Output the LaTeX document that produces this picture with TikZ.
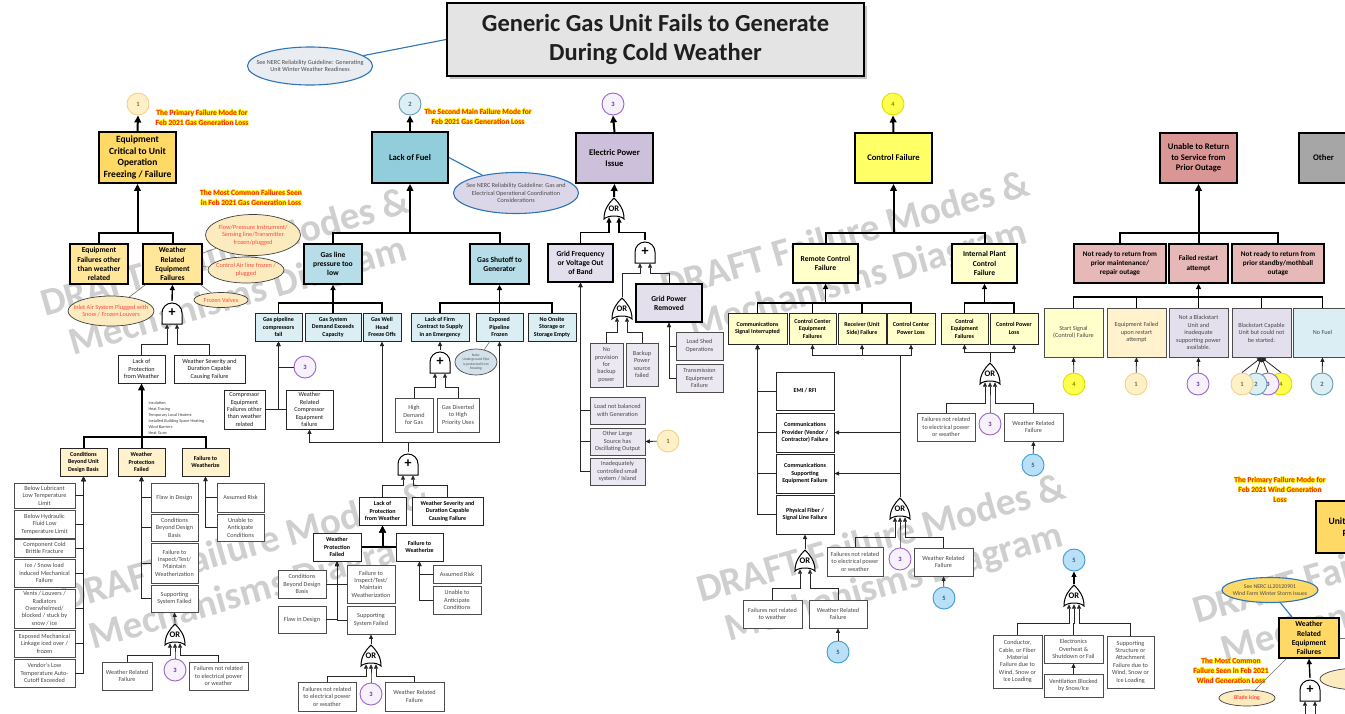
\documentclass[tikz,border=0pt]{standalone}
\usepackage{fontspec}
\setmainfont{Carlito}
\usepackage[copies]{contour}
\contourlength{0.5pt}
\usetikzlibrary{arrows.meta,calc,shapes.geometric,shadows}

\definecolor{cGold}{HTML}{FFD966}
\definecolor{cGoldLt}{HTML}{FFE699}
\definecolor{cCream}{HTML}{FFF2CC}
\definecolor{cTeal}{HTML}{92CDDC}
\definecolor{cTealMid}{HTML}{B7DEE8}
\definecolor{cTealLt}{HTML}{DAEEF3}
\definecolor{cLav}{HTML}{CCC0DA}
\definecolor{cLavLt}{HTML}{E4DFEC}
\definecolor{cLavPale}{HTML}{ECE8F2}
\definecolor{cYel}{HTML}{FFFF66}
\definecolor{cYelLt}{HTML}{FFFFCC}
\definecolor{cRose}{HTML}{DA9694}
\definecolor{cRoseLt}{HTML}{E6B8B7}
\definecolor{cGray}{HTML}{A6A6A6}
\definecolor{cTitle}{HTML}{E4E4E4}
\definecolor{cBlue}{HTML}{2E75B6}
\definecolor{cRed}{HTML}{F02818}
\definecolor{cRedTxt}{HTML}{FF4B3E}
\definecolor{cGlow}{HTML}{FFF200}
\definecolor{cEll}{HTML}{FDEBC0}
\definecolor{cNoteFill}{HTML}{D3E2EA}
\definecolor{cNercA}{HTML}{E9ECF1}
\definecolor{cNercB}{HTML}{DCD7E8}
% numbered reference circles
\definecolor{kOneF}{HTML}{FEF0C7}\definecolor{kOneD}{HTML}{F2D28A}\definecolor{kOneT}{HTML}{8A6D1E}
\definecolor{kTwoF}{HTML}{DDEFF4}\definecolor{kTwoD}{HTML}{5F9FB3}\definecolor{kTwoT}{HTML}{2F6F84}
\definecolor{kThrF}{HTML}{F6F1FB}\definecolor{kThrD}{HTML}{9966CC}\definecolor{kThrT}{HTML}{7030A0}
\definecolor{kFouF}{HTML}{FFFF4D}\definecolor{kFouD}{HTML}{E0E000}\definecolor{kFouT}{HTML}{8C8C00}
\definecolor{kFivF}{HTML}{B9E0F7}\definecolor{kFivD}{HTML}{3D9BD6}\definecolor{kFivT}{HTML}{20618F}

\newcommand\glow[1]{\contour{cGlow}{#1}}
% box from its corners: [style]{name}{x1}{y1}{x2}{y2}{text}
\newcommand\bxnode[7][]{%
  \pgfmathsetmacro\bxW{#5-#3}\pgfmathsetmacro\bxH{#6-#4}%
  \node[#1, minimum width=\bxW pt, minimum height=\bxH pt] (#2) at ({(#3+#5)/2},{(#4+#6)/2}) {#7};}
% children hang from a horizontal bus under the parent
\newcommand\busto[4]{%
  \coordinate (bz) at (0,#3);%
  \foreach \ch in {#4}{\draw[#1,-] (\ch.north) |- (#2.south |- bz);}%
  \draw[#1] (#2.south |- bz) -- (#2.south);}
% children stacked beside a vertical line under the parent
\newcommand\sidel[4]{\foreach \ch in {#4}{\draw[#1] (\ch.#3) -| (#2.south);}}
% gate inputs: style, child, gate, x offset, drop of the horizontal run
\newcommand\ginA[5]{\draw[#1] (#2.north) |- ($(#3.south)+(#4pt,-#5pt)$) -- ($(#3.south)+(#4pt,1pt)$);}
\newcommand\ginO[5]{\draw[#1] (#2.north) |- ($(#3.south)+(#4pt,-#5pt)$) -- ($(#3.south)+(#4pt,4pt)$);}

\tikzset{
  bx/.style={draw, rectangle, align=center, inner sep=1pt},
  topbox/.style={bx, line width=1.8pt, font=\bfseries\fontsize{8.6}{10.6}\selectfont},
  bigtop/.style={topbox, font=\bfseries\fontsize{9.5}{11.7}\selectfont},
  midbox/.style={bx, line width=1.3pt, font=\bfseries\fontsize{7.6}{9.2}\selectfont},
  subbox/.style={bx, line width=1pt, draw=black!85, font=\bfseries\fontsize{6}{7.5}\selectfont},
  leafbox/.style={bx, line width=0.8pt, draw=black!70, text=black!72, font=\fontsize{6.2}{7.4}\selectfont},
  plainbox/.style={leafbox, draw=black!85, text=black!90},
  circ/.style={circle, minimum size=22pt, inner sep=0pt, line width=0.9pt, font=\bfseries\fontsize{6.5}{7}\selectfont},
  k1/.style={circ, fill=kOneF, draw=kOneD, text=kOneT},
  k2/.style={circ, fill=kTwoF, draw=kTwoD, text=kTwoT},
  k3/.style={circ, fill=kThrF, draw=kThrD, text=kThrT},
  k4/.style={circ, fill=kFouF, draw=kFouD, text=kFouT},
  k5/.style={circ, fill=kFivF, draw=kFivD, text=kFivT},
  ell/.style={ellipse, draw=black!75, line width=0.7pt, fill=cEll, text=cRedTxt, align=center, inner xsep=-9pt, inner ysep=0pt, font=\fontsize{6.3}{7.4}\selectfont},
  nerc/.style={ellipse, draw=cBlue, line width=1.1pt, align=center, text=black!70, inner xsep=-11pt, inner ysep=0pt, font=\fontsize{6.2}{7.6}\selectfont},
  redlbl/.style={text=cRed, font=\bfseries\fontsize{7.5}{9.8}\selectfont, align=center},
  wmark/.style={text=black!19, font=\bfseries\fontsize{39}{45}\selectfont, align=center, rotate=16},
  A1/.style={draw=black, line width=2pt, -{Triangle[length=7pt,width=6.5pt]}},
  A2/.style={draw=black, line width=1.4pt, -{Triangle[length=5.5pt,width=5pt]}},
  A3/.style={draw=black!85, line width=0.8pt, -{Triangle[length=4.5pt,width=4pt]}},
  blueln/.style={draw=cBlue, line width=1.1pt},
  grayln/.style={draw=black!55, line width=0.6pt},
  andgate/.style={minimum width=23pt, minimum height=24pt, inner sep=0pt, font=\bfseries\fontsize{14}{14}\selectfont,
    path picture={\draw[line width=1pt, fill=white]
      ($(path picture bounding box.center)+(-10pt,-11pt)$) -- ++(0pt,11pt)
      arc[start angle=180, end angle=0, radius=10pt] -- ++(0pt,-11pt) -- cycle;}},
  orgate/.style={minimum width=23pt, minimum height=24pt, inner sep=0pt, font=\bfseries\fontsize{8.5}{9}\selectfont,
    path picture={\draw[line width=1pt, fill=white]
      ($(path picture bounding box.center)+(-10pt,-10pt)$)
      .. controls +(0pt,10pt) and +(-5pt,-5pt) .. ($(path picture bounding box.center)+(0pt,11pt)$)
      .. controls +(5pt,-5pt) and +(0pt,10pt) .. ($(path picture bounding box.center)+(10pt,-10pt)$)
      .. controls +(-4pt,4pt) and +(4pt,4pt) .. ($(path picture bounding box.center)+(-10pt,-10pt)$) -- cycle;}},
}

\begin{document}
\begin{tikzpicture}[x=1pt,y=-1pt]
\useasboundingbox (0,0) rectangle (1345,713);
\clip (0,0) rectangle (1345,713);
\fill[white] (0,0) rectangle (1345,713);

% ---------- background watermark ----------
\node[wmark] (wm1) at (232,276) {DRAFT Failure Modes \&\\Mechanisms Diagram};
\node[wmark] (wm2) at (852,259) {DRAFT Failure Modes \&\\Mechanisms Diagram};
\node[wmark] (wm3) at (252,570) {DRAFT Failure Modes \&\\Mechanisms Diagram};
\node[wmark] (wm4) at (888,562) {DRAFT Failure Modes \&\\Mechanisms Diagram};
\node[wmark] (wm5) at (1384,583) {DRAFT Failure Modes \&\\Mechanisms Diagram};

% ---------- title ----------
\node[draw, line width=2pt, fill=cTitle, drop shadow={shadow xshift=3pt, shadow yshift=-3pt, fill=black!45},
      minimum width=417pt, minimum height=73pt, align=center, text=black!88,
      font=\bfseries\fontsize{24.5}{28.5}\selectfont] (title) at (655.5,39.5)
      {Generic Gas Unit Fails to Generate\\During Cold Weather};
\node[nerc, fill=cNercA, minimum width=125pt, minimum height=38pt] (nerc1) at (310,66)
      {See NERC Reliability Guideline: Generating\\Unit Winter Weather Readiness};
\draw[blueln] (nerc1) -- (title.west);

% ================= 1: equipment freezing =================
\node[k1] (k1a) at (138,104) {1};
\node[redlbl] (lbl1) at (202,118) {\glow{The Primary Failure Mode for}\\\glow{Feb 2021 Gas Generation Loss}};
\bxnode[bigtop, fill=cGold]{eqcrit}{99}{132}{176}{183}{Equipment\\Critical to Unit\\Operation\\Freezing / Failure}
\node[redlbl] (lbl2) at (251,198) {\glow{The Most Common Failures Seen}\\\glow{in Feb 2021 Gas Generation Loss}};
\bxnode[midbox, fill=cGoldLt]{eqother}{70}{244}{128}{284}{Equipment\\Failures other\\than weather\\related}
\bxnode[midbox, fill=cGoldLt]{wre1}{143}{244}{202}{284}{Weather\\Related\\Equipment\\Failures}
\node[ell, minimum width=95pt, minimum height=41pt] (flow) at (253,235) {Flow/Pressure Instrument/\\Sensing line/Transmitter\\frozen/plugged};
\node[ell, minimum width=76pt, minimum height=26pt] (cair) at (246,270) {Control Air line frozen /\\plugged};
\node[ell, minimum width=54pt, minimum height=15pt] (fvalve) at (221,300) {Frozen Valves};
\node[ell, minimum width=86pt, minimum height=30pt] (inlet) at (111,311) {Inlet Air System Plugged with\\Snow / Frozen Louvers};
\node[andgate] (and1) at (172,313) {+};
\bxnode[plainbox]{lop1}{118}{355}{165}{383}{Lack of\\Protection\\from Weather}
\bxnode[plainbox]{wsev1}{174}{355}{245}{383}{Weather Severity and\\Duration Capable\\Causing Failure}
\node[anchor=west, align=left, text=black!75, font=\fontsize{4.3}{5.9}\selectfont] (prot1) at (145,418)
      {Insulation\\Heat Tracing\\Temporary Local Heaters\\Installed Building Space Heating\\Wind Barriers\\Heat Guns};
\bxnode[subbox, fill=cCream]{cbd1}{60}{448}{107}{476}{Conditions\\Beyond Unit\\Design Basis}
\bxnode[subbox, fill=cCream]{wpf1}{118}{448}{165}{476}{Weather\\Protection\\Failed}
\bxnode[subbox, fill=cCream]{ftw1}{182}{448}{229}{476}{Failure to\\Weatherize}
\bxnode[leafbox, fill=white]{l1a}{14}{483}{75}{508}{Below Lubricant\\Low Temperature\\Limit}
\bxnode[leafbox, fill=white]{l1b}{14}{510}{75}{538}{Below Hydraulic\\Fluid Low\\Temperature Limit}
\bxnode[leafbox, fill=white]{l1c}{14}{539}{75}{557}{Component Cold\\Brittle Fracture}
\bxnode[leafbox, fill=white]{l1d}{14}{559}{75}{587}{Ice / Snow load\\induced Mechanical\\Failure}
\bxnode[leafbox, fill=white]{l1e}{14}{589}{75}{628}{Vents / Louvers /\\Radiators\\Overwhelmed/\\blocked / stuck by\\snow / ice}
\bxnode[leafbox, fill=white]{l1f}{14}{630}{75}{657}{Exposed Mechanical\\Linkage iced over /\\frozen}
\bxnode[leafbox, fill=white]{l1g}{14}{659}{75}{687}{Vendor's Low\\Temperature Auto-\\Cutoff Exceeded}
\bxnode[leafbox, fill=white]{l2a}{151}{483}{198}{512}{Flaw in Design}
\bxnode[leafbox, fill=white]{l2b}{151}{514}{198}{541}{Conditions\\Beyond Design\\Basis}
\bxnode[leafbox, fill=white]{l2c}{151}{543}{198}{583}{Failure to\\Inspect/Test/\\Maintain\\Weatherization}
\bxnode[leafbox, fill=white]{l2d}{151}{585}{198}{612}{Supporting\\System Failed}
\bxnode[leafbox, fill=white]{l3a}{217}{483}{264}{512}{Assumed Risk}
\bxnode[leafbox, fill=white]{l3b}{217}{514}{264}{541}{Unable to\\Anticipate\\Conditions}
\node[orgate] (or1) at (175,635) {OR};
\bxnode[leafbox, fill=white]{wrf1}{102}{662}{152}{690}{Weather Related\\Failure}
\node[k3] (k3a) at (175,670) {3};
\bxnode[leafbox, fill=white]{fnr1}{189}{662}{248}{690}{Failures not related\\to electrical power\\or weather}

\draw[A1] (eqcrit.north) -- (k1a.south);
\busto{A1}{eqcrit}{233}{eqother,wre1}
\draw[grayln] (wre1) -- (flow);
\draw[grayln] (wre1) -- (cair);
\draw[grayln] (wre1) -- (fvalve);
\draw[grayln] (wre1) -- (inlet);
\draw[A2] (and1.north) -- (wre1.south);
\ginA{A3}{lop1}{and1}{-5}{19}
\ginA{A3}{wsev1}{and1}{5}{19}
\busto{A1}{lop1}{437}{cbd1,wpf1,ftw1}
\sidel{A3}{cbd1}{east}{l1a,l1b,l1c,l1d,l1e,l1f,l1g}
\sidel{A3}{wpf1}{west}{l2a,l2b,l2c,l2d}
\sidel{A3}{ftw1}{west}{l3a,l3b}
\draw[A3] (or1.north) -- (l2d.south);
\ginO{A3}{wrf1}{or1}{-5}{8}
\ginO{A3}{k3a}{or1}{0}{8}
\ginO{A3}{fnr1}{or1}{5}{8}

% ================= 2: lack of fuel =================
\node[k2] (k2a) at (410,104) {2};
\node[redlbl] (lbl3) at (478,117) {\glow{The Second Main Failure Mode for}\\\glow{Feb 2021 Gas Generation Loss}};
\bxnode[topbox, fill=cTeal]{fuel}{372}{132}{448}{183}{Lack of Fuel}
\node[nerc, fill=cNercB, minimum width=125pt, minimum height=41pt] (nerc2) at (516,193)
      {See NERC Reliability Guideline: Gas and\\Electrical Operational Coordination\\Considerations};
\bxnode[midbox, fill=cTealMid]{glp}{304}{244}{362}{284}{Gas line\\pressure too\\low}
\bxnode[midbox, fill=cTealMid]{gso}{470}{244}{529}{284}{Gas Shutoff to\\Generator}
\bxnode[subbox, fill=cTealLt]{gpc}{255}{313}{302}{341}{Gas pipeline\\compressors\\fail}
\bxnode[subbox, fill=cTealLt]{gsd}{305}{313}{361}{341}{Gas System\\Demand Exceeds\\Capacity}
\bxnode[subbox, fill=cTealLt]{gwh}{363}{313}{401}{341}{Gas Well\\Head\\Freeze Offs}
\bxnode[subbox, fill=cTealLt]{lfc}{411}{313}{469}{341}{Lack of Firm\\Contract to Supply\\in an Emergency}
\bxnode[subbox, fill=cTealLt]{epf}{476}{313}{523}{341}{Exposed\\Pipeline\\Frozen}
\bxnode[subbox, fill=cTealLt]{nos}{528}{313}{576}{341}{No Onsite\\Storage or\\Storage Empty}
\node[ellipse, draw=black!70, line width=0.7pt, fill=cNoteFill, align=center, inner sep=-3pt, text=black!70,
      minimum width=42pt, minimum height=26pt, font=\fontsize{3.6}{4.3}\selectfont] (note) at (476,362)
      {Note:\\Underground Pipe\\is protected from\\freezing};
\node[k3] (k3b) at (305,367) {3};
\bxnode[plainbox, fill=white]{cef}{224}{390}{265}{429}{Compressor\\Equipment\\Failures other\\than weather\\related}
\bxnode[plainbox, fill=white]{wrc}{286}{390}{333}{429}{Weather\\Related\\Compressor\\Equipment\\failure}
\node[andgate] (and2) at (440,362) {+};
\bxnode[leafbox, fill=white]{hdg}{395}{398}{433}{432}{High\\Demand\\for Gas}
\bxnode[leafbox, fill=white]{gdh}{437}{398}{479}{432}{Gas Diverted\\to High\\Priority Uses}
\node[andgate] (and3) at (408,464) {+};
\bxnode[subbox, fill=white]{lop2}{359}{497}{406}{525}{Lack of\\Protection\\from Weather}
\bxnode[subbox, fill=white]{wsev2}{412}{497}{483}{525}{Weather Severity and\\Duration Capable\\Causing Failure}
\bxnode[subbox, fill=white]{wpf2}{313}{533}{361}{561}{Weather\\Protection\\Failed}
\bxnode[subbox, fill=white]{ftw2}{396}{533}{443}{561}{Failure to\\Weatherize}
\bxnode[leafbox, fill=white]{cbd2}{278}{570}{326}{598}{Conditions\\Beyond Design\\Basis}
\bxnode[leafbox, fill=white]{fd2}{278}{606}{326}{633}{Flaw in Design}
\bxnode[leafbox, fill=white]{fit2}{347}{565}{395}{603}{Failure to\\Inspect/Test/\\Maintain\\Weatherization}
\bxnode[leafbox, fill=white]{ssf2}{347}{606}{395}{634}{Supporting\\System Failed}
\bxnode[leafbox, fill=white]{ar2}{433}{565}{481}{583}{Assumed Risk}
\bxnode[leafbox, fill=white]{ua2}{433}{586}{481}{614}{Unable to\\Anticipate\\Conditions}
\node[orgate] (or2) at (371,656) {OR};
\bxnode[leafbox, fill=white]{fnr2}{298}{682}{356}{711}{Failures not related\\to electrical power\\or weather}
\node[k3] (k3c) at (371,694) {3};
\bxnode[leafbox, fill=white]{wrf2}{385}{682}{444}{711}{Weather Related\\Failure}

\draw[A1] (fuel.north) -- (k2a.south);
\draw[blueln] (fuel.east) -- (nerc2);
\busto{A1}{fuel}{233}{glp,gso}
\busto{A2}{glp}{303}{gpc,gsd,gwh}
\busto{A2}{gso}{303}{lfc,epf,nos}
\sidel{A3}{gpc}{east}{cef}
\sidel{A3}{gpc}{west}{k3b,wrc}
\draw[grayln] (note) -- (epf);
\draw[A3] (and2.north) -- (lfc.south);
\ginA{A3}{hdg}{and2}{-5}{13}
\ginA{A3}{gdh}{and2}{5}{13}
\coordinate (b442) at (0,442);
\foreach \ch in {wrc,gwh,epf}{\draw[A3] (and3.north) |- (\ch.south |- b442) -- (\ch.south);}
\ginA{A3}{lop2}{and3}{-5}{9}
\ginA{A3}{wsev2}{and3}{5}{9}
\draw[A1] (wpf2.east) -| (lop2.south);
\draw[A1] (ftw2.west) -| (lop2.south);
\sidel{A3}{wpf2}{east}{cbd2,fd2}
\sidel{A3}{wpf2}{west}{fit2,ssf2}
\sidel{A3}{ftw2}{west}{ar2,ua2}
\draw[A3] (or2.north) -- (ssf2.south);
\ginO{A3}{fnr2}{or2}{-5}{8}
\ginO{A3}{k3c}{or2}{0}{8}
\ginO{A3}{wrf2}{or2}{5}{8}

% ================= 3: electric power =================
\node[k3] (k3top) at (613,104) {3};
\bxnode[topbox, fill=cLav]{epi}{576}{133}{653}{183}{Electric Power\\Issue}
\node[orgate] (orE) at (614,209) {OR};
\bxnode[midbox, fill=cLavLt]{gfv}{548}{244}{613}{282}{Grid Frequency\\or Voltage Out\\of Band}
\node[andgate] (andE) at (645,252) {+};
\bxnode[midbox, fill=cLavLt]{gpr}{636}{284}{702}{322}{Grid Power\\Removed}
\node[orgate] (orE2) at (622,309) {OR};
\bxnode[leafbox, fill=cLavPale]{npb}{590}{343}{623}{387}{No\\provision\\for\\backup\\power}
\bxnode[leafbox, fill=cLavPale]{bps}{626}{343}{658}{386}{Backup\\Power\\source\\failed}
\bxnode[leafbox, fill=cLavPale]{lso}{676}{332}{723}{360}{Load Shed\\Operations}
\bxnode[leafbox, fill=cLavPale]{tef}{676}{364}{723}{392}{Transmission\\Equipment\\Failure}
\bxnode[leafbox, fill=cLavPale]{lnb}{590}{397}{645}{424}{Load not balanced\\with Generation}
\bxnode[leafbox, fill=cLavPale]{ols}{590}{428}{645}{455}{Other Large\\Source has\\Oscillating Output}
\bxnode[leafbox, fill=cLavPale]{ics}{590}{458}{645}{485}{Inadequately\\controlled small\\system / Island}
\node[k1] (k1b) at (668,441) {1};

\draw[A1] (epi.north) -- (k3top.south);
\draw[A1] (orE.north) -- (epi.south);
\ginO{A2}{gfv}{orE}{-5}{11}
\ginO{A2}{andE}{orE}{5}{11}
\ginA{A3}{orE2}{andE}{-5}{9}
\ginA{A3}{gpr}{andE}{5}{9}
\ginO{A3}{npb}{orE2}{-5}{11}
\ginO{A3}{bps}{orE2}{5}{11}
\sidel{A3}{gpr}{west}{lso,tef}
\sidel{A3}{gfv}{west}{lnb,ols,ics}
\draw[A3] (k1b) -- (ols.east);

% ================= 4: control failure =================
\node[k4] (k4a) at (893,104) {4};
\bxnode[topbox, fill=cYel]{ctl}{855}{133}{932}{183}{Control Failure}
\bxnode[midbox, fill=cYelLt]{rcf}{793}{244}{858}{283}{Remote Control\\Failure}
\bxnode[midbox, fill=cYelLt]{ipc}{952}{244}{1017}{283}{Internal Plant\\Control\\Failure}
\bxnode[subbox, fill=cYelLt]{csi}{728}{313}{787}{344}{Communications\\Signal Interrupted}
\bxnode[subbox, fill=cYelLt]{cce}{789}{313}{836}{344}{Control Center\\Equipment\\Failures}
\bxnode[subbox, fill=cYelLt]{rus}{838}{313}{886}{344}{Receiver (Unit\\Side) Failure}
\bxnode[subbox, fill=cYelLt]{ccp}{887}{313}{935}{344}{Control Center\\Power Loss}
\bxnode[subbox, fill=cYelLt]{cef2}{941}{313}{988}{344}{Control\\Equipment\\Failures}
\bxnode[subbox, fill=cYelLt]{cpl}{990}{313}{1038}{344}{Control Power\\Loss}
\bxnode[subbox, fill=white]{emi}{776}{372}{834}{410}{EMI / RFI}
\bxnode[subbox, fill=white]{cpf}{776}{413}{834}{452}{Communications\\Provider (Vendor /\\Contractor) Failure}
\bxnode[subbox, fill=white]{cse}{776}{454}{834}{493}{Communications\\Supporting\\Equipment Failure}
\bxnode[subbox, fill=white]{pfs}{776}{495}{834}{534}{Physical Fiber /\\Signal Line Failure}
\node[orgate] (orC) at (900,509) {OR};
\bxnode[leafbox, fill=white]{fnr3}{827}{547}{883}{576}{Failures not related\\to electrical power\\or weather}
\node[k3] (k3d) at (900,559) {3};
\bxnode[leafbox, fill=white]{wrf3}{914}{548}{973}{576}{Weather Related\\Failure}
\node[k5] (k5a) at (944,598) {5};
\node[orgate] (orP) at (805,561) {OR};
\bxnode[leafbox, fill=white]{fnw}{743}{600}{802}{628}{Failures not related\\to weather}
\bxnode[leafbox, fill=white]{wrf4}{809}{600}{867}{628}{Weather Related\\Failure}
\node[k5] (k5b) at (838,652) {5};
\node[orgate] (orI) at (990,374) {OR};
\bxnode[leafbox, fill=white]{fnr5}{917}{413}{975}{441}{Failures not related\\to electrical power\\or weather}
\node[k3] (k3e) at (990,424) {3};
\bxnode[leafbox, fill=white]{wrf5}{1004}{413}{1063}{441}{Weather Related\\Failure}
\node[k5] (k5c) at (1033,465) {5};

\draw[A1] (ctl.north) -- (k4a.south);
\busto{A1}{ctl}{233}{rcf,ipc}
\busto{A2}{rcf}{303}{csi,cce,rus,ccp}
\busto{A2}{ipc}{303}{cef2,cpl}
\sidel{A3}{csi}{west}{emi,cpf,cse,pfs}
\coordinate (b355) at (0,355);
\foreach \ch in {cce,rus,ccp}{\draw[A3] (orC.north) |- (\ch.south |- b355) -- (\ch.south);}
\draw[A3] (orC.north) |- (cpf.east);
\draw[A3] (orC.north) |- (cse.east);
\ginO{A3}{fnr3}{orC}{-5}{16}
\ginO{A3}{k3d}{orC}{0}{16}
\ginO{A3}{wrf3}{orC}{5}{16}
\draw[A3] (k5a) -- (wrf3.south);
\draw[A3] (orP.north) -- (pfs.south);
\ginO{A3}{fnw}{orP}{-5}{15}
\ginO{A3}{wrf4}{orP}{5}{15}
\draw[A3] (k5b) -- (wrf4.south);
\coordinate (b352) at (0,352);
\foreach \ch in {cef2,cpl}{\draw[A3] (orI.north) |- (\ch.south |- b352) -- (\ch.south);}
\ginO{A3}{fnr5}{orI}{-5}{17}
\ginO{A3}{k3e}{orI}{0}{17}
\ginO{A3}{wrf5}{orI}{5}{17}
\draw[A3] (k5c) -- (wrf5.south);

% ================= 5: return to service / other =================
\bxnode[topbox, fill=cRose]{urs}{1160}{133}{1237}{183}{Unable to Return\\to Service from\\Prior Outage}
\bxnode[topbox, fill=cGray]{oth}{1299}{133}{1348}{183}{Other}
\bxnode[midbox, fill=cRoseLt, font=\bfseries\fontsize{7.2}{9.2}\selectfont]{nrm}{1074}{244}{1166}{283}{Not ready to return from\\prior maintenance/\\repair outage}
\bxnode[midbox, fill=cRoseLt, font=\bfseries\fontsize{7.2}{9.2}\selectfont]{frs}{1169}{244}{1228}{283}{Failed restart\\attempt}
\bxnode[midbox, fill=cRoseLt, font=\bfseries\fontsize{7.2}{9.2}\selectfont]{nrs}{1232}{244}{1324}{283}{Not ready to return from\\prior standby/mothball\\outage}
\bxnode[leafbox, fill=cYelLt]{ssc}{1044}{308}{1103}{357}{Start Signal\\(Control) Failure}
\bxnode[leafbox, fill=cCream]{efr}{1107}{308}{1166}{357}{Equipment Failed\\upon restart\\attempt}
\bxnode[leafbox, fill=cLavLt]{nbs}{1169}{308}{1228}{357}{Not a Blackstart\\Unit and\\inadequate\\supporting power\\available.}
\bxnode[leafbox, fill=cLavLt]{bsc}{1232}{308}{1291}{357}{Blackstart Capable\\Unit but could not\\be started.}
\bxnode[leafbox, fill=cTealLt]{nfu}{1293}{308}{1352}{357}{No Fuel}
\node[k4] (k4b) at (1074,384) {4};
\node[k1] (k1c) at (1136,384) {1};
\node[k3] (k3f) at (1198,384) {3};
\node[k4] (k4c) at (1281,384) {4};
\node[k3] (k3g) at (1268,384) {3};
\node[k2] (k2b) at (1256,384) {2};
\node[k1] (k1d) at (1242,384) {1};
\node[k2] (k2c) at (1322,384) {2};

\busto{A1}{urs}{233}{nrm,frs,nrs}
\busto{A2}{frs}{297}{ssc,efr,nbs,bsc,nfu}
\draw[A3] (k4b) -- (ssc.south);
\draw[A3] (k1c) -- (efr.south);
\draw[A3] (k3f) -- (nbs.south);
\foreach \ch in {k4c,k3g,k2b,k1d}{\draw[A3] (\ch.north) -- (bsc.south);}
\draw[A3] (k2c) -- (nfu.south);

% ================= 5: weather related failure (structures) =================
\node[k5] (k5d) at (1074,560) {5};
\node[orgate] (orW) at (1074,596) {OR};
\bxnode[leafbox, fill=white]{ccf}{993}{635}{1042}{688}{Conductor,\\Cable, or Fiber\\Material\\Failure due to\\Wind, Snow or\\Ice Loading}
\bxnode[leafbox, fill=white]{eos}{1044}{635}{1103}{663}{Electronics\\Overheat \&\\Shutdown or Fail}
\bxnode[leafbox, fill=white]{vbs}{1044}{674}{1103}{697}{Ventilation Blocked\\by Snow/Ice}
\bxnode[leafbox, fill=white]{ssa}{1107}{636}{1154}{688}{Supporting\\Structure or\\Attachment\\Failure due to\\Wind, Snow or\\Ice Loading}
\draw[A2] (orW.north) -- (k5d.south);
\ginO{A3}{ccf}{orW}{-5}{15}
\ginO{A3}{eos}{orW}{0}{15}
\ginO{A3}{ssa}{orW}{5}{15}
\draw[A3] (vbs.north) -- (eos.south);

% ================= wind generation =================
\node[redlbl] (lbl4) at (1280,490) {\glow{The Primary Failure Mode for}\\\glow{Feb 2021 Wind Generation}\\\glow{Loss}};
\bxnode[bigtop, fill=cGold]{wunit}{1316}{501}{1420}{553}{Unit Icing / Freezing\\Performance}
\node[nerc, fill=cGold, minimum width=96pt, minimum height=25pt, font=\fontsize{5.8}{7.4}\selectfont] (nerc3) at (1270,590)
      {See NERC LL20120901\\Wind Farm Winter Storm Issues};
\bxnode[midbox, fill=cGold]{wre2}{1279}{618}{1339}{658}{Weather\\Related\\Equipment\\Failures}
\node[redlbl] (lbl5) at (1231,671) {\glow{The Most Common}\\\glow{Failure Seen in Feb 2021}\\\glow{Wind Generation Loss}};
\node[ell, minimum width=56pt, minimum height=16pt, font=\bfseries\fontsize{5.7}{6.8}\selectfont] (bice) at (1247,698) {Blade Icing};
\node[ell, minimum width=80pt, minimum height=22pt, text=black!70, font=\fontsize{5.2}{6.4}\selectfont] (bdis) at (1360,679) {Blade Deicing\\System Failure};
\node[andgate] (and4) at (1310,690) {+};
\coordinate (woff) at (1370,638);
\coordinate (w4a) at (1305,725);
\coordinate (w4b) at (1315,725);
\draw[blueln] (nerc3) -- (wre2);
\draw[grayln] (bice) -- ($(wre2.south west)+(8pt,0pt)$);
\draw[grayln] (wre2.east) -- (woff);
\draw[A2] (and4.north) -- (wre2.south);
\draw[A3] (w4a) -- ($(and4.south)+(-5pt,1pt)$);
\draw[A3] (w4b) -- ($(and4.south)+(5pt,1pt)$);
\end{tikzpicture}
\end{document}
